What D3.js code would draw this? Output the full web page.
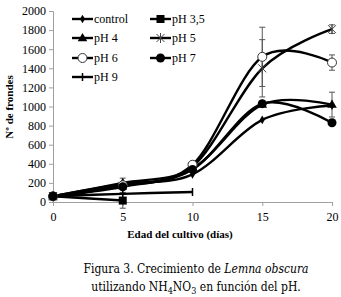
<!DOCTYPE html>
<html lang="es">
<head>
<meta charset="utf-8">
<script src="https://d3js.org/d3.v7.min.js"></script>
<style>
  body { margin: 0; background: white; }
  text { font-family: "Liberation Serif", "Times New Roman", serif; fill: black; }
  .caption { font-family: "DejaVu Serif", serif; font-size: 12px; font-stretch: condensed; }
</style>
</head>
<body>
<div id="chart"></div>
<script>
// days (x values)
var days = [0, 5, 10, 15, 20];

// series values
var control = [60, 190, 290, 860, 1010];
var ph35    = [60, 15];
var ph4     = [60, 200, 350, 1020, 1020];
var ph5     = [60, 170, 370, 1400, 1810];
var ph6     = [60, 175, 390, 1520, 1460];
var ph7     = [60, 160, 340, 1030, 830];
var ph9     = [60, 85, 105];

// error bar half-widths
var errPh5 = [0, 0, 0, 300, 45];
var errPh6 = [0, 75, 30, 310, 80];
var errPh4 = [0, 0, 0, 0, 130];
var errPh35 = [0, 80];

var yTicks = [0, 200, 400, 600, 800, 1000, 1200, 1400, 1600, 1800, 2000];
var xTicks = [0, 5, 10, 15, 20];

var series = [
  {name: "control", vals: control, mark: "diamond", err: null},
  {name: "pH 3,5",  vals: ph35,    mark: "square",  err: errPh35},
  {name: "pH 4",    vals: ph4,     mark: "triangle", err: errPh4},
  {name: "pH 5",    vals: ph5,     mark: "x",       err: errPh5},
  {name: "pH 6",    vals: ph6,     mark: "open",    err: errPh6},
  {name: "pH 7",    vals: ph7,     mark: "circle",  err: null},
  {name: "pH  9",   vals: ph9,     mark: "plus",    err: null}
];

var W = 341, H = 297;
var svg = d3.select("#chart").append("svg")
    .attr("width", W).attr("height", H);

var x = d3.scaleLinear().domain([0, 20]).range([53, 332]);
var y = d3.scaleLinear().domain([0, 2000]).range([202, 11]);

// y axis
var yAxis = svg.append("g")
    .attr("transform", "translate(53,0)")
    .call(d3.axisLeft(y).tickValues(yTicks).tickFormat(d3.format("d")).tickSize(4).tickPadding(3));
yAxis.selectAll("path, line").attr("stroke", "#a0a0a0");
yAxis.selectAll("text").style("font-size", "12px").style("font-family", "Liberation Serif");

// x axis
var xAxis = svg.append("g")
    .attr("transform", "translate(0,202)")
    .call(d3.axisBottom(x).tickValues(xTicks).tickSize(4).tickPadding(6));
xAxis.selectAll("path, line").attr("stroke", "#a0a0a0");
xAxis.selectAll("text").style("font-size", "12px").style("font-family", "Liberation Serif");

// axis titles
svg.append("text")
    .attr("transform", "translate(13,107) rotate(-90)")
    .attr("text-anchor", "middle")
    .style("font-size", "11px").style("font-weight", "bold")
    .text("Nº de frondes");
svg.append("text")
    .attr("x", 180).attr("y", 238)
    .attr("text-anchor", "middle")
    .style("font-size", "11px").style("font-weight", "bold")
    .text("Edad del cultivo (días)");

// error bars
series.forEach(function(s) {
  if (!s.err) return;
  s.vals.forEach(function(v, i) {
    var e = s.err[i];
    if (!e) return;
    var cx = x(days[i]);
    var g = svg.append("g").attr("stroke", "#555").attr("stroke-width", 1);
    g.append("line").attr("x1", cx).attr("x2", cx).attr("y1", y(v - e)).attr("y2", y(v + e));
    g.append("line").attr("x1", cx - 3).attr("x2", cx + 3).attr("y1", y(v - e)).attr("y2", y(v - e));
    g.append("line").attr("x1", cx - 3).attr("x2", cx + 3).attr("y1", y(v + e)).attr("y2", y(v + e));
  });
});

var line = d3.line()
    .x(function(d, i) { return x(days[i]); })
    .y(function(d) { return y(d); })
    .curve(d3.curveCardinal.tension(0));

// lines
series.forEach(function(s) {
  svg.append("path")
    .datum(s.vals)
    .attr("fill", "none")
    .attr("stroke", "black")
    .attr("stroke-width", 2.4)
    .attr("d", line);
});

function drawMarker(g, type, cx, cy) {
  if (type === "diamond") {
    g.append("path").attr("d", d3.symbol(d3.symbolDiamond, 22)())
      .attr("transform", "translate(" + cx + "," + cy + ")").attr("fill", "black");
  } else if (type === "square") {
    g.append("rect").attr("x", cx - 4).attr("y", cy - 4).attr("width", 8).attr("height", 8).attr("fill", "black");
  } else if (type === "triangle") {
    g.append("path").attr("d", d3.symbol(d3.symbolTriangle, 40)())
      .attr("transform", "translate(" + cx + "," + (cy + 0.5) + ")").attr("fill", "black");
  } else if (type === "x") {
    g.append("path").attr("d", "M" + (cx - 4) + "," + (cy - 4) + "L" + (cx + 4) + "," + (cy + 4) +
        "M" + (cx - 4) + "," + (cy + 4) + "L" + (cx + 4) + "," + (cy - 4) +
        "M" + cx + "," + (cy - 5) + "L" + cx + "," + (cy + 5))
      .attr("stroke", "#444").attr("stroke-width", 1).attr("fill", "none");
  } else if (type === "open") {
    g.append("circle").attr("cx", cx).attr("cy", cy).attr("r", 4.5)
      .attr("fill", "white").attr("stroke", "#333").attr("stroke-width", 1);
  } else if (type === "circle") {
    g.append("circle").attr("cx", cx).attr("cy", cy).attr("r", 4.5).attr("fill", "black");
  } else if (type === "plus") {
    g.append("line").attr("x1", cx).attr("x2", cx).attr("y1", cy - 4).attr("y2", cy + 4)
      .attr("stroke", "black").attr("stroke-width", 1.5);
  }
}

// markers
series.forEach(function(s) {
  var g = svg.append("g");
  s.vals.forEach(function(v, i) { drawMarker(g, s.mark, x(days[i]), y(v)); });
});

// legend
var legPos = [
  [72, 19], [150, 19],
  [72, 38], [150, 38],
  [72, 58], [150, 58],
  [72, 77]
];
series.forEach(function(s, i) {
  var p = legPos[i];
  var g = svg.append("g");
  g.append("line").attr("x1", p[0]).attr("x2", p[0] + 21).attr("y1", p[1]).attr("y2", p[1])
    .attr("stroke", "black").attr("stroke-width", 2.4);
  drawMarker(g, s.mark, p[0] + 10.5, p[1]);
  g.append("text").attr("x", p[0] + 22).attr("y", p[1] + 4)
    .style("font-size", "12px").text(s.name);
});

// caption
svg.append("text").attr("class", "caption")
    .attr("x", 196).attr("y", 273).attr("text-anchor", "middle")
    .html('Figura 3. Crecimiento de <tspan font-style="italic">Lemna obscura</tspan>');
svg.append("text").attr("class", "caption")
    .attr("x", 196).attr("y", 291).attr("text-anchor", "middle")
    .html('utilizando NH<tspan font-size="9" dy="3">4</tspan><tspan dy="-3">NO</tspan><tspan font-size="9" dy="3">3</tspan><tspan dy="-3"> en función del pH.</tspan>');
</script>
</body>
</html>
